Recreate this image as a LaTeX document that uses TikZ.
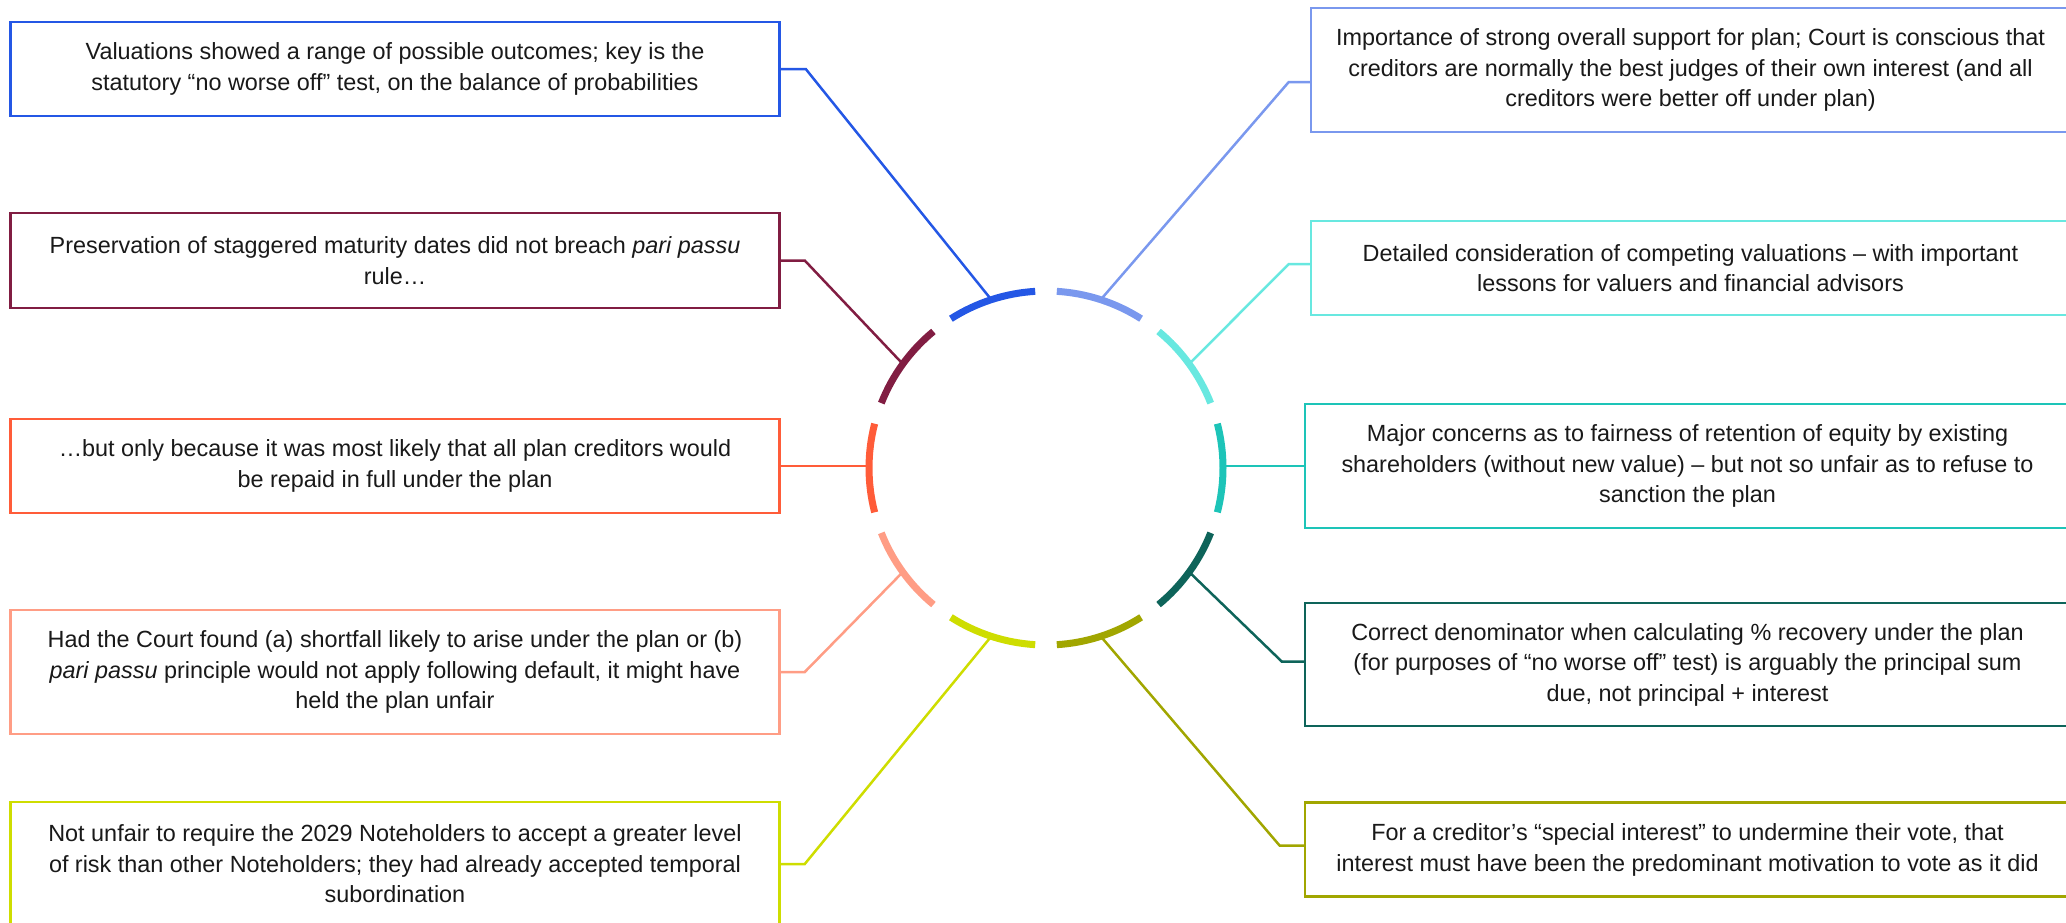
\documentclass[tikz,border=0pt]{standalone}
\usepackage{fontspec}
\setmainfont{Liberation Sans}
\usepackage{tikz}
\usetikzlibrary{calc}
\definecolor{vblue}{RGB}{36,87,229}
\definecolor{vlightblue}{RGB}{122,152,238}
\definecolor{vcyan}{RGB}{104,232,224}
\definecolor{vteal}{RGB}{29,196,184}
\definecolor{vdarkteal}{RGB}{14,100,90}
\definecolor{volive}{RGB}{161,166,0}
\definecolor{vyellow}{RGB}{206,221,0}
\definecolor{vsalmon}{RGB}{255,157,133}
\definecolor{vorange}{RGB}{255,92,57}
\definecolor{vmaroon}{RGB}{129,29,66}

\begin{document}
\begin{tikzpicture}[x=1pt,y=1pt,
		textbox/.style={draw,line width=2.5pt,fill=white,align=center,inner sep=0pt,text=black!90,font=\fontsize{23.4}{30.5}\selectfont},
		leftbox/.style={textbox,minimum width=769pt},
		link/.style={line width=2.5pt}]
	\useasboundingbox (0,0) rectangle (2066,-922);

	\node[leftbox,draw=vblue,minimum height=94pt] (l1) at (395,-69) {Valuations showed a range of possible outcomes; key is the\\statutory “no worse off” test, on the balance of probabilities};
	\node[leftbox,draw=vmaroon,minimum height=95pt] (l2) at (395,-260.5) {Preservation of staggered maturity dates did not breach \textit{pari passu}\\rule…};
	\node[leftbox,draw=vorange,minimum height=94pt] (l3) at (395,-466) {…but only because it was most likely that all plan creditors would\\be repaid in full under the plan};
	\node[leftbox,draw=vsalmon,minimum height=124pt] (l4) at (395,-672) {Had the Court found (a) shortfall likely to arise under the plan or (b)\\\textit{pari passu} principle would not apply following default, it might have\\held the plan unfair};
	\node[leftbox,draw=vyellow,minimum height=124pt] (l5) at (395,-864) {Not unfair to require the 2029 Noteholders to accept a greater level\\of risk than other Noteholders; they had already accepted temporal\\subordination};

	\node[textbox,draw=vlightblue,minimum width=759pt,minimum height=124pt] (r1) at (1690.5,-70) {Importance of strong overall support for plan; Court is conscious that\\creditors are normally the best judges of their own interest (and all\\creditors were better off under plan)};
	\node[textbox,draw=vcyan,minimum width=759pt,minimum height=94pt] (r2) at (1690.5,-268) {Detailed consideration of competing valuations – with important\\lessons for valuers and financial advisors};
	\node[textbox,draw=vteal,minimum width=765pt,minimum height=124pt] (r3) at (1687.5,-466) {Major concerns as to fairness of retention of equity by existing\\shareholders (without new value) – but not so unfair as to refuse to\\sanction the plan};
	\node[textbox,draw=vdarkteal,minimum width=765pt,minimum height=123pt] (r4) at (1687.5,-664.5) {Correct denominator when calculating \% recovery under the plan\\(for purposes of “no worse off” test) is arguably the principal sum\\due, not principal + interest};
	\node[textbox,draw=volive,minimum width=765pt,minimum height=94pt] (r5) at (1687.5,-849.7) {For a creditor’s “special interest” to undermine their vote, that\\interest must have been the predominant motivation to vote as it did};

	\coordinate (O) at (1046,-468);
	\foreach \a in {0,36,72,108,144,180,216,252,288,324}
		\coordinate (m\a) at ($(O)+(\a:177)$);

	\draw[link,vblue] (l1.east) -- ++(25,0) -- (m108);
	\draw[link,vmaroon] (l2.east) -- ++(24,0) -- (m144);
	\draw[link,vorange] (l3.east) -- (l3.east -| m180);
	\draw[link,vsalmon] (l4.east) -- ++(24,0) -- (m216);
	\draw[link,vyellow] (l5.east) -- ++(24,0) -- (m252);
	\draw[link,vlightblue] ([yshift=-12]r1.west) -- ++(-21,0) -- (m72);
	\draw[link,vcyan] ([yshift=4]r2.west) -- ++(-21,0) -- (m36);
	\draw[link,vteal] (r3.west) -- (r3.west -| m0);
	\draw[link,vdarkteal] ([yshift=3]r4.west) -- ++(-22,0) -- (m324);
	\draw[link,volive] ([yshift=4]r5.west) -- ++(-24,0) -- (m288);

	\foreach \a/\c in {72/vlightblue,36/vcyan,0/vteal,-36/vdarkteal,-72/volive,-108/vyellow,-144/vsalmon,180/vorange,144/vmaroon,108/vblue}
		\draw[\c,line width=7pt] ($(O)+(\a+14.5:177)$) arc[start angle=\a+14.5,end angle=\a-14.5,radius=177];
\end{tikzpicture}
\end{document}
